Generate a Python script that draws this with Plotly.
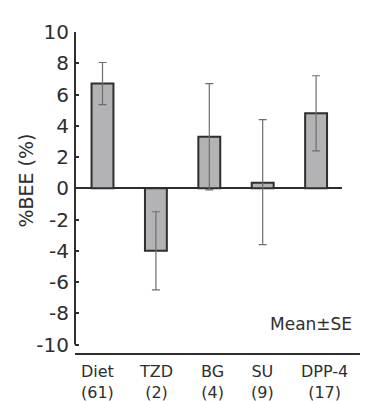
import plotly.graph_objects as go

categories = ["Diet", "TZD", "BG", "SU", "DPP-4"]
counts = ["(61)", "(2)", "(4)", "(9)", "(17)"]
means = [6.7, -4.0, 3.3, 0.35, 4.8]
err_plus = [1.35, 2.5, 3.4, 4.05, 2.4]
err_minus = [1.35, 2.5, 3.4, 3.95, 2.4]
y_ticks = [10, 8, 6, 4, 2, 0, -2, -4, -6, -8, -10]

x = list(range(len(categories)))
dark = "#2e2e2e"
font_family = "DejaVu Sans"

fig = go.Figure()
fig.add_trace(go.Bar(
    x=x, y=means, width=0.41,
    marker=dict(color="#b3b3b5", line=dict(color=dark, width=2)),
    error_y=dict(type="data", symmetric=False, array=err_plus, arrayminus=err_minus,
                 color="#6e6e6e", thickness=1.2, width=4),
))

annotations = []
xshifts = [-5, 0, 3, 0, 8]
for xi, c, n, s in zip(x, categories, counts, xshifts):
    annotations.append(dict(x=xi, y=0, xref="x", yref="paper", yanchor="top", yshift=-6,
                            xshift=s, text=c + "<br>" + n, showarrow=False,
                            font=dict(family=font_family, size=16, color=dark), align="center"))
annotations.append(dict(x=1.045, y=-8.7, xref="paper", yref="y", xanchor="right", yanchor="middle",
                        text="Mean±SE", showarrow=False,
                        font=dict(family=font_family, size=17, color=dark)))
annotations.append(dict(x=-0.187, y=0.5, xref="paper", yref="y", xanchor="center", yanchor="middle",
                        text="%BEE (%)", textangle=-90, showarrow=False,
                        font=dict(family=font_family, size=19, color=dark)))

shapes = [
    dict(type="line", xref="paper", yref="y", x0=0, x1=0, y0=-10, y1=10,
         line=dict(color=dark, width=2)),
    dict(type="line", xref="paper", yref="paper", x0=0, x1=1.2, y0=0, y1=0,
         line=dict(color=dark, width=2)),
]

fig.update_layout(
    width=360, height=393,
    margin=dict(l=67, r=26, t=13, b=47),
    paper_bgcolor="white", plot_bgcolor="white",
    showlegend=False,
    font=dict(family=font_family, color=dark),
    xaxis=dict(range=[-0.515, 4.485], showticklabels=False, showline=False,
               showgrid=False, zeroline=False, ticks=""),
    yaxis=dict(range=[-10.6, 10], tickvals=y_ticks, ticktext=[str(v) for v in y_ticks],
               ticks="inside", ticklen=4, tickcolor=dark, tickwidth=1.5,
               ticklabelstandoff=5,
               showgrid=False, showline=False,
               zeroline=True, zerolinecolor=dark, zerolinewidth=1.5,
               tickfont=dict(family=font_family, size=20, color=dark)),
    annotations=annotations, shapes=shapes,
)

fig.write_html("out.html")
